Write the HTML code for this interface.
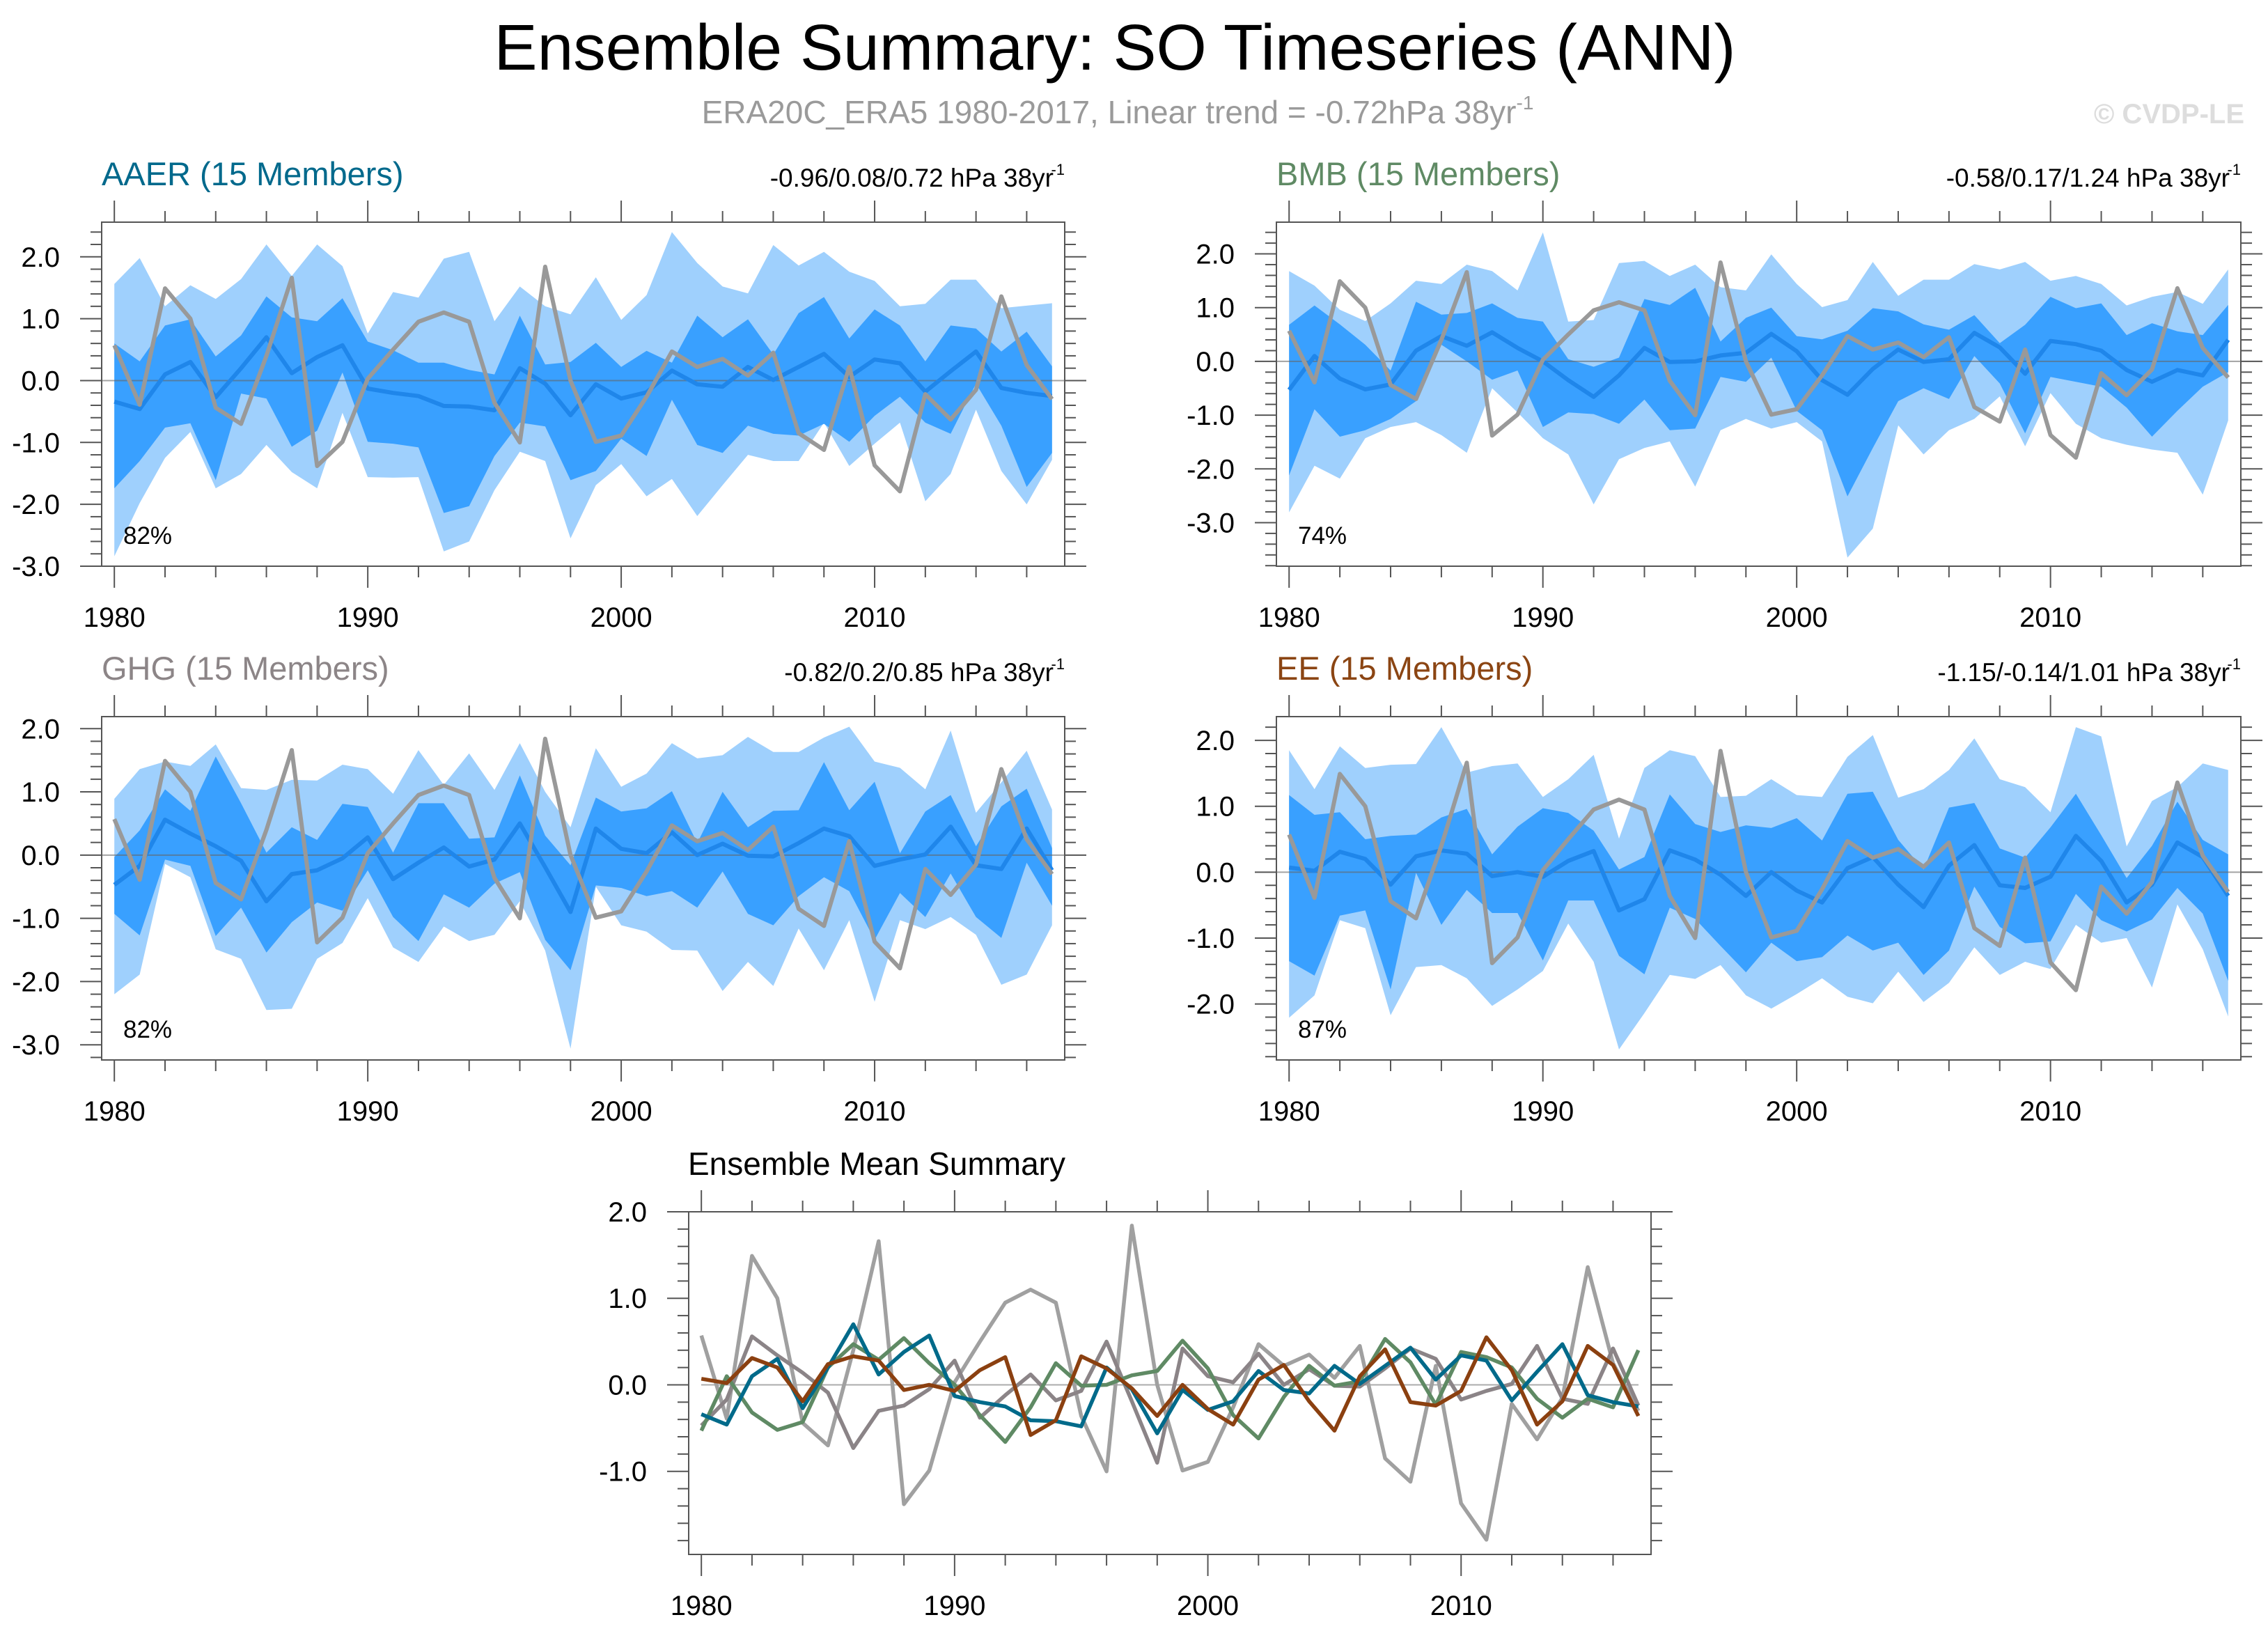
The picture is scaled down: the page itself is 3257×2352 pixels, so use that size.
<!DOCTYPE html>
<html><head><meta charset="utf-8"><title>Ensemble Summary: SO Timeseries (ANN)</title>
<style>html,body{margin:0;padding:0;background:#fff}svg{display:block}text{font-family:"Liberation Sans",Arial,sans-serif}</style>
</head><body>
<svg id="fig" xmlns="http://www.w3.org/2000/svg" width="3257" height="2352" viewBox="0 0 3257 2352">
<rect x="0" y="0" width="3257" height="2352" fill="#fff"/>
<text x="1601" y="100" font-size="93" text-anchor="middle" fill="#000">Ensemble Summary: SO Timeseries (ANN)</text>
<text x="1605" y="177" font-size="46" text-anchor="middle" fill="#9a9a9a">ERA20C_ERA5 1980-2017, Linear trend = -0.72hPa 38yr<tspan font-size="28" dy="-20">-1</tspan></text>
<text x="3223" y="177" font-size="40" font-weight="bold" text-anchor="end" fill="#dddddd">© CVDP-LE</text>
</svg>
<script>
const years = [1980,1981,1982,1983,1984,1985,1986,1987,1988,1989,1990,1991,1992,1993,1994,1995,1996,1997,1998,1999,2000,2001,2002,2003,2004,2005,2006,2007,2008,2009,2010,2011,2012,2013,2014,2015,2016,2017];
const obs = [0.57,-0.39,1.49,1.0,-0.44,-0.7,0.4,1.66,-1.38,-0.99,0.03,0.5,0.95,1.1,0.95,-0.36,-1.0,1.84,0.0,-0.99,-0.89,-0.26,0.47,0.22,0.35,0.08,0.45,-0.85,-1.12,0.22,-1.37,-1.79,-0.22,-0.63,-0.15,1.36,0.25,-0.3];

const aaerMean = [-0.34,-0.46,0.1,0.3,-0.27,0.2,0.7,0.12,0.38,0.57,-0.13,-0.2,-0.25,-0.41,-0.42,-0.48,0.2,-0.05,-0.56,-0.06,-0.29,-0.19,0.16,-0.06,-0.1,0.22,0.01,0.22,0.43,0.06,0.34,0.28,-0.18,0.15,0.47,-0.12,-0.2,-0.25];
const aaerOutHi = [1.56,1.98,1.2,1.54,1.32,1.64,2.2,1.69,2.2,1.85,0.76,1.43,1.34,1.97,2.08,0.96,1.52,1.2,1.07,1.67,0.98,1.38,2.4,1.9,1.52,1.41,2.19,1.86,2.08,1.76,1.61,1.2,1.24,1.63,1.63,1.17,1.21,1.25];
const aaerOutLo = [-2.84,-1.98,-1.25,-0.83,-1.74,-1.51,-1.04,-1.48,-1.74,-0.52,-1.56,-1.57,-1.56,-2.76,-2.6,-1.77,-1.15,-1.3,-2.55,-1.69,-1.35,-1.87,-1.59,-2.19,-1.69,-1.2,-1.3,-1.3,-0.68,-1.38,-1.02,-0.68,-1.95,-1.51,-0.47,-1.46,-2.0,-1.28];
const aaerInHi = [0.6,0.31,0.89,0.99,0.39,0.73,1.36,1.02,0.96,1.33,0.63,0.49,0.29,0.29,0.17,0.1,1.05,0.26,0.3,0.61,0.22,0.48,0.29,1.05,0.7,0.99,0.42,1.09,1.35,0.68,1.15,0.89,0.31,0.89,0.84,0.47,0.79,0.23];
const aaerInLo = [-1.74,-1.3,-0.76,-0.69,-1.61,-0.21,-0.29,-1.07,-0.81,0.13,-0.99,-1.02,-1.08,-2.14,-2.03,-1.22,-0.68,-0.74,-1.61,-1.46,-0.94,-1.22,-0.31,-1.04,-1.17,-0.73,-0.86,-0.89,-0.7,-0.99,-0.57,-0.26,-0.68,-0.86,-0.05,-0.73,-1.72,-1.17];

const bmbMean = [-0.53,0.1,-0.32,-0.52,-0.43,0.2,0.47,0.29,0.54,0.25,0.0,-0.35,-0.66,-0.26,0.25,-0.01,0.0,0.11,0.16,0.51,0.19,-0.35,-0.62,-0.14,0.22,-0.01,0.04,0.53,0.26,-0.23,0.38,0.32,0.2,-0.16,-0.38,-0.16,-0.26,0.4];
const bmbOutHi = [1.68,1.41,0.96,0.75,1.08,1.5,1.44,1.8,1.68,1.32,2.4,0.74,0.77,1.83,1.87,1.59,1.8,1.38,1.32,1.99,1.44,1.01,1.14,1.85,1.22,1.52,1.52,1.81,1.71,1.85,1.5,1.59,1.44,1.04,1.2,1.29,1.07,1.71];
const bmbOutLo = [-2.81,-1.94,-2.18,-1.43,-1.22,-1.13,-1.37,-1.7,-0.5,-0.95,-1.43,-1.73,-2.66,-1.82,-1.61,-1.49,-2.33,-1.28,-1.07,-1.25,-1.13,-1.49,-3.65,-3.11,-1.19,-1.73,-1.28,-1.07,-0.65,-1.58,-0.59,-1.16,-1.43,-1.55,-1.64,-1.7,-2.48,-1.1];
const bmbInHi = [0.68,1.04,0.69,0.31,-0.17,1.11,0.87,0.9,1.08,0.81,0.74,0.04,-0.1,0.07,1.16,1.05,1.37,0.37,0.81,1.0,0.47,0.41,0.57,0.99,0.93,0.69,0.59,0.86,0.34,0.68,1.2,0.99,1.08,0.49,0.71,0.56,0.49,1.05];
const bmbInLo = [-2.12,-0.89,-1.4,-1.28,-1.07,-0.74,0.31,0.0,-0.34,-0.17,-1.22,-0.95,-0.98,-1.16,-0.71,-1.28,-1.25,-0.29,-0.38,0.07,-0.92,-1.28,-2.51,-1.61,-0.74,-0.5,-0.7,0.1,-0.41,-1.34,-0.29,-0.38,-0.47,-0.86,-1.4,-0.92,-0.47,-0.2];

const ghgMean = [-0.47,-0.17,0.56,0.34,0.14,-0.09,-0.73,-0.3,-0.24,-0.05,0.28,-0.38,-0.12,0.12,-0.18,-0.07,0.5,-0.19,-0.9,0.42,0.1,0.03,0.36,0.0,0.18,-0.01,-0.02,0.19,0.42,0.3,-0.17,-0.07,0.01,0.45,-0.16,-0.22,0.42,-0.24];
const ghgOutHi = [0.89,1.36,1.48,1.41,1.75,1.06,1.03,1.19,1.18,1.43,1.36,0.97,1.66,1.11,1.61,1.03,1.77,1.0,0.44,1.69,1.08,1.29,1.77,1.53,1.58,1.87,1.63,1.63,1.86,2.03,1.48,1.38,1.04,1.97,0.67,1.15,1.65,0.72];
const ghgOutLo = [-2.2,-1.89,-0.14,-0.35,-1.49,-1.64,-2.45,-2.43,-1.64,-1.39,-0.68,-1.46,-1.69,-1.13,-1.36,-1.26,-0.73,-1.51,-3.06,-0.5,-1.11,-1.21,-1.5,-1.51,-2.15,-1.69,-2.07,-1.16,-1.82,-1.03,-2.32,-1.03,-1.17,-0.98,-1.26,-2.05,-1.89,-1.11];
const ghgInHi = [-0.03,0.39,1.04,0.7,1.56,0.82,0.04,0.44,0.24,0.81,0.76,0.04,0.82,0.82,0.26,0.28,1.26,0.31,-0.16,0.91,0.69,0.74,1.01,0.19,1.0,0.44,0.7,0.71,1.47,0.71,1.16,0.03,0.69,0.95,0.14,0.77,1.05,0.11];
const ghgInLo = [-0.93,-1.27,-0.07,-0.17,-1.28,-0.83,-1.54,-1.06,-0.75,-0.88,-0.24,-0.98,-1.36,-0.62,-0.83,-0.45,-0.27,-1.34,-1.82,-0.48,-0.52,-0.65,-0.57,-0.83,-0.26,-0.93,-1.11,-0.65,-0.35,-0.57,-1.34,-0.6,-0.98,-0.29,-0.98,-1.31,-0.12,-0.8];

const eeMean = [0.07,0.02,0.31,0.2,-0.19,0.24,0.33,0.28,-0.06,0.0,-0.07,0.17,0.32,-0.58,-0.41,0.33,0.19,-0.04,-0.36,0.0,-0.28,-0.46,0.06,0.23,-0.19,-0.53,0.1,0.41,-0.2,-0.24,-0.07,0.55,0.17,-0.46,-0.19,0.45,0.23,-0.36];
const eeOutHi = [1.85,1.26,1.91,1.58,1.63,1.64,2.2,1.51,1.61,1.65,1.14,1.41,1.78,0.51,1.58,1.85,1.76,1.14,1.16,1.41,1.17,1.14,1.75,2.08,1.13,1.26,1.55,2.03,1.41,1.29,0.91,2.2,2.06,0.39,1.08,1.29,1.65,1.55];
const eeOutLo = [-2.21,-1.87,-0.73,-0.85,-2.17,-1.44,-1.41,-1.61,-2.03,-1.78,-1.5,-0.78,-1.36,-2.69,-2.14,-1.56,-1.62,-1.41,-1.87,-2.07,-1.85,-1.61,-1.89,-1.99,-1.51,-1.97,-1.68,-1.14,-1.56,-1.36,-1.47,-0.8,-1.07,-1.0,-1.75,-0.49,-1.17,-2.19];
const eeInHi = [1.17,0.87,0.91,0.5,0.55,0.57,0.83,0.96,0.27,0.69,0.97,0.9,0.63,0.04,0.23,1.18,0.73,0.61,0.71,0.67,0.82,0.48,1.19,1.22,0.49,0.04,0.98,1.05,0.36,0.22,0.68,1.19,0.56,-0.09,0.4,1.07,0.49,0.27];
const eeInLo = [-1.35,-1.57,-0.66,-0.58,-1.78,-0.01,-0.8,-0.27,-0.62,-0.62,-1.34,-0.43,-0.43,-1.27,-1.55,-0.54,-0.71,-1.12,-1.52,-1.07,-1.35,-1.29,-0.96,-1.19,-1.07,-1.56,-1.19,-0.22,-0.83,-1.08,-1.05,-0.33,-0.73,-0.9,-0.72,-0.24,-0.63,-1.65];

const panelTitles = ["AAER (15 Members)","BMB (15 Members)","GHG (15 Members)","EE (15 Members)"];
const trendLabels = ["-0.96/0.08/0.72 hPa 38yr","-0.58/0.17/1.24 hPa 38yr","-0.82/0.2/0.85 hPa 38yr","-1.15/-0.14/1.01 hPa 38yr"];
const pctLabels = ["82%","74%","82%","87%"];

const NS = "http://www.w3.org/2000/svg";
const svg = document.getElementById('fig');
function mk(tag, attrs, parent){const e=document.createElementNS(NS,tag);for(const k in attrs)e.setAttribute(k,attrs[k]);(parent||svg).appendChild(e);return e;}

function axes(g, L, R, T, B, x0, x1, ymin, ymax){
  const xs = y => L + (y - x0) / (x1 - x0) * (R - L);
  const ys = v => B - (v - ymin) / (ymax - ymin) * (B - T);
  return {xs, ys};
}

function frame(g, L, R, T, B, ax, ymin, ymax, name){
  const tk = mk('g', {stroke:'#555', 'stroke-width':2}, g);
  
  
  for (let yr = 1980; yr <= 2016; yr += 2) {
    const x = ax.xs(yr), len = (yr % 10 === 0) ? 31 : 16;
    mk('line', {x1:x, y1:T, x2:x, y2:T-len}, tk);
    mk('line', {x1:x, y1:B, x2:x, y2:B+len}, tk);
  }
  const start = Math.ceil(ymin * 5 - 1e-6), end = Math.floor(ymax * 5 + 1e-6);
  for (let i = start; i <= end; i++) {
    const v = i / 5, y = ax.ys(v), major = (i % 5 === 0), len = major ? 31 : 16;
    mk('line', {x1:L, y1:y, x2:L-len, y2:y}, tk);
    mk('line', {x1:R, y1:y, x2:R+len, y2:y}, tk);
    if (major) {
      const t = mk('text', {x:L-60, y:y+14, 'font-size':40, 'text-anchor':'end', fill:'#000'}, g);
      
      
      t.textContent = (v === 0 ? 0 : v).toFixed(1);
    }
  }
  for (let yr = 1980; yr <= 2010; yr += 10) {
    const t = mk('text', {x:ax.xs(yr), y:B+87, 'font-size':40, 'text-anchor':'middle', fill:'#000'}, g);
    
    
    t.textContent = yr;
  }
  const box = mk('rect', {x:L, y:T, width:R-L, height:B-T, fill:'none', stroke:'#555', 'stroke-width':2}, g);
  
  
}

function linePath(ax, vals){ return vals.map((v,i)=>(i?'L':'M')+ax.xs(years[i]).toFixed(1)+','+ax.ys(v).toFixed(1)).join(' '); }
function bandPath(ax, lo, hi){
  let d = hi.map((v,i)=>(i?'L':'M')+ax.xs(years[i]).toFixed(1)+','+ax.ys(v).toFixed(1)).join(' ');
  for (let i = lo.length-1; i >= 0; i--) d += ' L'+ax.xs(years[i]).toFixed(1)+','+ax.ys(lo[i]).toFixed(1);
  return d + ' Z';
}

const panels = [
  {L:146, R:1529, T:319, B:813, ymin:-3.0, ymax:2.56, col:'#00698c', key:'aaer', d:[aaerOutLo,aaerOutHi,aaerInLo,aaerInHi,aaerMean]},
  {L:1833, R:3218, T:319, B:813, ymin:-3.81, ymax:2.59, col:'#5f8a64', key:'bmb', d:[bmbOutLo,bmbOutHi,bmbInLo,bmbInHi,bmbMean]},
  {L:146, R:1529, T:1029, B:1522, ymin:-3.24, ymax:2.19, col:'#8c8587', key:'ghg', d:[ghgOutLo,ghgOutHi,ghgInLo,ghgInHi,ghgMean]},
  {L:1833, R:3218, T:1029, B:1522, ymin:-2.85, ymax:2.36, col:'#8b4513', key:'ee', d:[eeOutLo,eeOutHi,eeInLo,eeInHi,eeMean]}
];

panels.forEach((p, k) => {
  const g = mk('g', {});
  
  
  const ax = axes(g, p.L, p.R, p.T, p.B, 1979.5, 2017.5, p.ymin, p.ymax);
  const ob = mk('path', {d:bandPath(ax, p.d[0], p.d[1]), fill:'#9fd0fd', stroke:'none'}, g);
  
  
  const ib = mk('path', {d:bandPath(ax, p.d[2], p.d[3]), fill:'#39a0ff', stroke:'none'}, g);
  
  
  const z = mk('line', {x1:p.L, x2:p.R, y1:ax.ys(0), y2:ax.ys(0), stroke:'#666', 'stroke-opacity':0.6, 'stroke-width':2}, g);
  
  
  const ml = mk('path', {d:linePath(ax, p.d[4]), fill:'none', stroke:'#1f86ea', 'stroke-width':6, 'stroke-linejoin':'round'}, g);
  
  
  const ol = mk('path', {d:linePath(ax, obs), fill:'none', stroke:'#999', 'stroke-width':6, 'stroke-linejoin':'round'}, g);
  
  
  frame(g, p.L, p.R, p.T, p.B, ax, p.ymin, p.ymax, p.key);
  const t = mk('text', {x:p.L, y:p.T-53, 'font-size':47, fill:p.col}, g);
  
  
  t.textContent = panelTitles[k];
  const r = mk('text', {x:p.R-16, y:p.T-51, 'font-size':37, 'text-anchor':'end', fill:'#000'}, g);
  
  
  r.textContent = trendLabels[k];
  const sup = mk('text', {x:p.R, y:p.T-68, 'font-size':22, 'text-anchor':'end', fill:'#000'}, g);
  
  
  sup.textContent = '-1';
  const pc = mk('text', {x:p.L+31, y:p.B-32, 'font-size':35, fill:'#000'}, g);
  
  
  pc.textContent = pctLabels[k];
});

(function(){
  const L=989, R=2371, T=1740, B=2232, ymin=-1.96, ymax=2.0;
  const g = mk('g', {});
  
  
  const ax = axes(g, L, R, T, B, 1979.5, 2017.5, ymin, ymax);
  const z = mk('line', {x1:L+18, x2:R-18, y1:ax.ys(0), y2:ax.ys(0), stroke:'#888', 'stroke-opacity':0.7, 'stroke-width':2}, g);
  
  
  const series = [[obs,'#a0a0a0','observed'],[ghgMean,'#8b8487','ghg'],[bmbMean,'#5f8a64','bmb'],[aaerMean,'#006a8a','aaer'],[eeMean,'#8b4010','ee']];
  series.forEach(s => {
    const pth = mk('path', {d:linePath(ax, s[0]), fill:'none', stroke:s[1], 'stroke-width':5.5, 'stroke-linejoin':'round'}, g);
    
    
  });
  frame(g, L, R, T, B, ax, ymin, ymax, 'summary');
  const t = mk('text', {x:988, y:1687, 'font-size':46, fill:'#000'}, g);
  
  
  t.textContent = 'Ensemble Mean Summary';
})();
</script>
</body></html>
